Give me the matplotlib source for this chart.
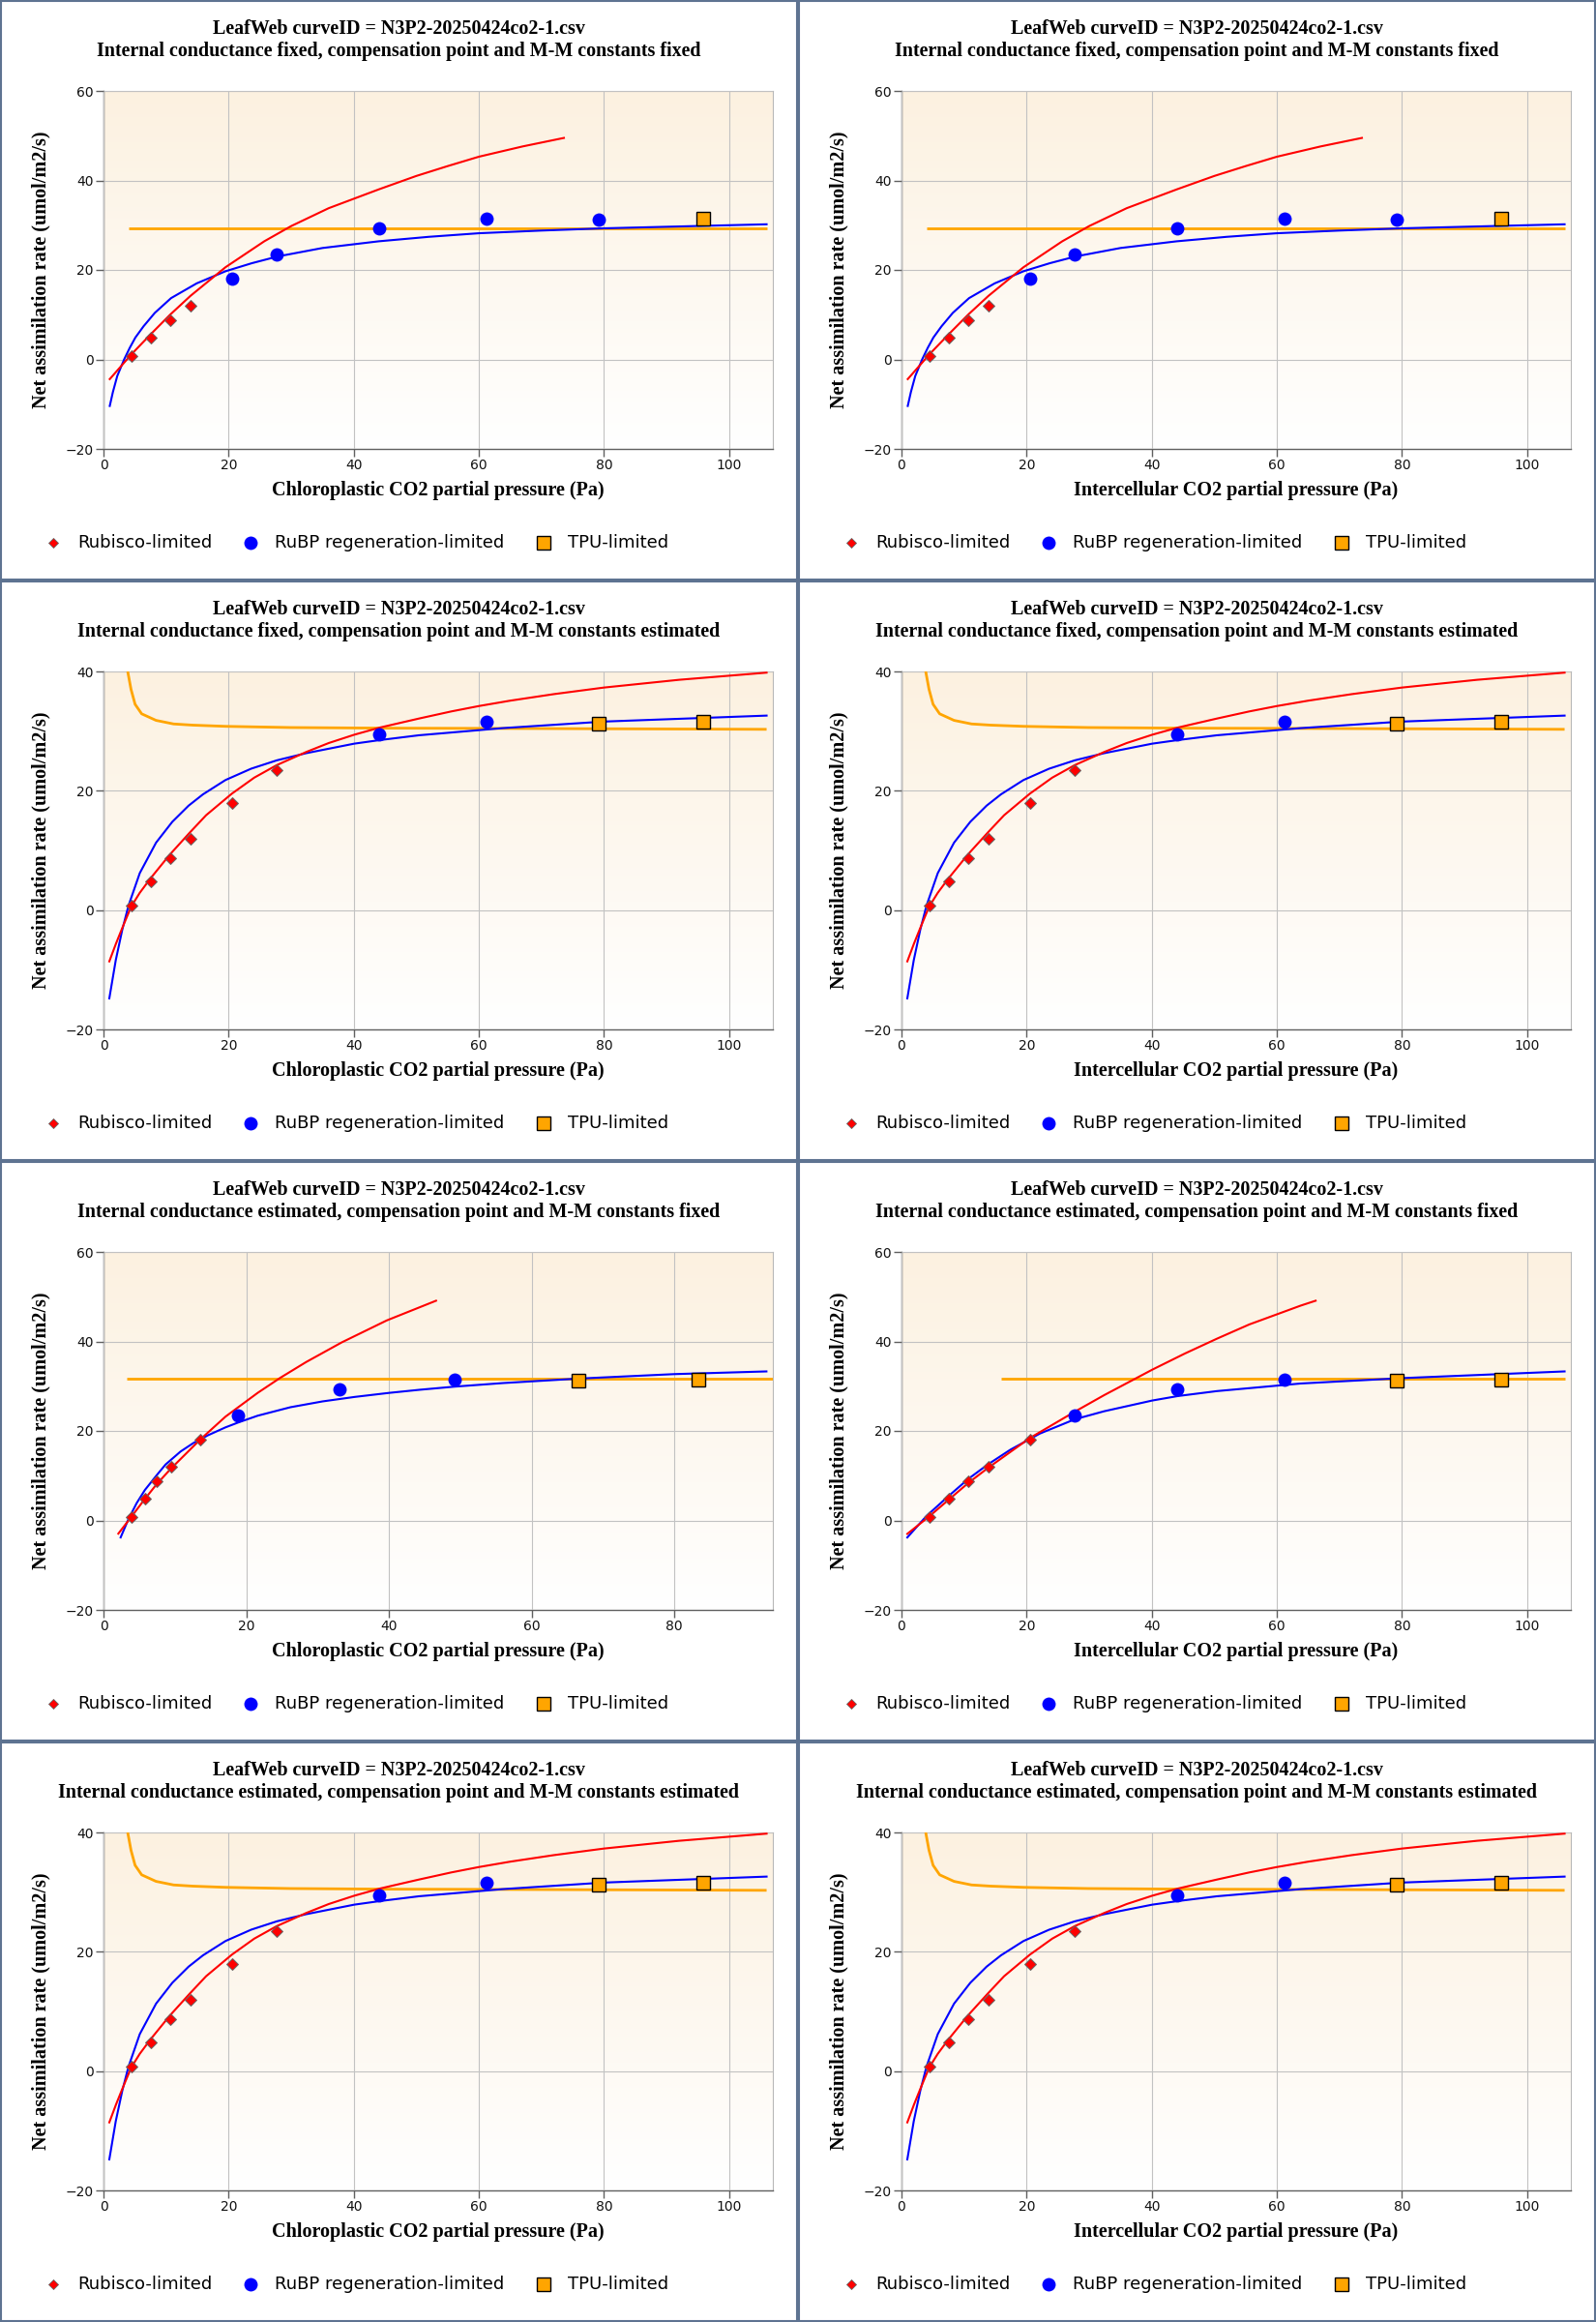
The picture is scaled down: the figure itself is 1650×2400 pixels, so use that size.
import numpy as np
import matplotlib
matplotlib.use("Agg")
import matplotlib.pyplot as plt
from matplotlib.patches import Rectangle
from matplotlib.lines import Line2D

# ---------------- data ----------------
curve_id = "LeafWeb curveID = N3P2-20250424co2-1.csv"

# observations
ci_pa = [4.47, 7.56, 10.65, 13.9, 20.6, 27.7, 44.0, 61.3, 79.1, 95.9]
cc_gm_est = [3.92, 5.77, 7.48, 9.48, 13.6, 18.8, 33.1, 49.25, 66.6, 83.4]
a_net = [0.8, 4.8, 8.7, 11.9, 18.0, 23.4, 29.4, 31.5, 31.3, 31.5]

# limitation assigned to each observation: R Rubisco, J RuBP regeneration, T TPU
lim_fix_fix = ['R', 'R', 'R', 'R', 'J', 'J', 'J', 'J', 'J', 'T']
lim_fix_est = ['R', 'R', 'R', 'R', 'R', 'R', 'J', 'J', 'T', 'T']
lim_est_fix = ['R', 'R', 'R', 'R', 'R', 'J', 'J', 'J', 'T', 'T']
lim_est_est = ['R', 'R', 'R', 'R', 'R', 'R', 'J', 'J', 'T', 'T']

# fitted curves, fit A: gm fixed, constants fixed
fitA_rub_x = [1.0, 4.5, 7.6, 10.65, 13.9, 19.5, 25.7, 30.0, 36.0, 44.0, 50.0, 55.0, 60.0, 67.0, 73.6]
fitA_rub_y = [-4.4, 1.2, 5.7, 10.0, 14.2, 20.6, 26.4, 29.8, 33.8, 38.0, 41.0, 43.2, 45.3, 47.6, 49.5]
fitA_rubp_x = [1.0, 1.5, 2.2, 3.3, 4.2, 5.1, 6.4, 8.2, 10.8, 14.9, 19.5, 23.7, 27.8, 35.0, 44.0, 52.0,
               60.0, 70.0, 80.0, 106.0]
fitA_rubp_y = [-10.4, -7.3, -3.7, 0.0, 2.6, 4.9, 7.4, 10.4, 13.7, 17.0, 19.7, 21.5, 23.0, 24.9, 26.4, 27.4,
               28.2, 28.8, 29.3, 30.2]
fitA_tpu_x = [4.0, 106.0]
fitA_tpu_y = [29.3, 29.3]

# fit B: constants estimated (gm fixed or estimated)
fitB_rub_x = [0.93, 2.0, 3.0, 4.43, 5.8, 7.5, 10.6, 13.8, 16.4, 20.5, 24.1, 27.7, 32.4, 36.0, 40.1, 44.2,
              50.4, 55.6, 60.0, 65.0, 72.0, 80.0, 92.0, 106.0]
fitB_rub_y = [-8.6, -5.6, -3.0, 0.6, 2.9, 5.3, 9.3, 13.0, 15.9, 19.5, 22.2, 24.3, 26.5, 28.0, 29.4, 30.6,
              32.1, 33.3, 34.2, 35.1, 36.2, 37.3, 38.6, 39.8]
fitB_rubp_x = [0.93, 1.96, 3.0, 4.0, 5.8, 8.4, 11.0, 13.6, 15.9, 19.5, 23.6, 27.7, 32.4, 40.1, 44.2,
               50.4, 63.8, 80.0, 106.0]
fitB_rubp_y = [-14.8, -8.4, -3.3, 0.76, 6.2, 11.3, 14.8, 17.5, 19.4, 21.8, 23.7, 25.1, 26.3, 27.9, 28.5,
               29.3, 30.5, 31.6, 32.6]
fitB_tpu_x = [3.87, 4.4, 5.05, 6.1, 8.4, 11.2, 14.3, 19.5, 29.8, 44.2, 63.8, 106.0]
fitB_tpu_y = [40.0, 37.0, 34.5, 32.9, 31.8, 31.2, 31.0, 30.8, 30.6, 30.5, 30.45, 30.3]

# fit C: gm estimated, constants fixed, chloroplastic axis
fitC_rub_x = [2.08, 3.9, 5.7, 7.4, 9.4, 13.5, 17.1, 21.6, 24.8, 28.4, 33.4, 39.7, 46.6]
fitC_rub_y = [-2.95, 0.8, 4.6, 8.0, 11.5, 18.0, 23.2, 28.5, 31.9, 35.4, 39.8, 44.7, 49.1]
fitC_rubp_x = [2.4, 3.5, 4.66, 5.8, 7.4, 8.7, 10.8, 12.6, 14.6, 17.1, 18.9, 21.6, 26.2, 30.7, 35.2,
               40.0, 44.3, 49.2, 56.0, 66.6, 80.0, 92.9]
fitC_rubp_y = [-3.8, 0.3, 3.9, 6.8, 10.0, 12.5, 15.4, 17.3, 19.0, 20.8, 21.9, 23.4, 25.3, 26.6, 27.6,
               28.5, 29.2, 29.9, 30.7, 31.7, 32.7, 33.3]
fitC_tpu_x = [3.3, 93.8]
fitC_tpu_y = [31.7, 31.7]

# fit D: gm estimated, constants fixed, intercellular axis
fitD_rub_x = [0.93, 4.43, 7.6, 10.7, 13.8, 20.5, 27.7, 32.4, 40.1, 45.3, 50.4, 55.6, 63.8, 66.2]
fitD_rub_y = [-3.0, 0.9, 4.7, 8.4, 11.7, 18.4, 24.3, 28.0, 33.7, 37.3, 40.6, 43.8, 48.0, 49.1]
fitD_rubp_x = [0.93, 4.0, 7.4, 10.7, 13.8, 17.4, 22.1, 27.7, 32.4, 40.1, 44.2, 50.4, 63.8, 80.0, 106.0]
fitD_rubp_y = [-3.8, 1.0, 5.3, 9.3, 12.5, 15.8, 19.4, 22.6, 24.4, 26.8, 27.8, 28.9, 30.6, 31.8, 33.3]
fitD_tpu_x = [15.9, 106.0]
fitD_tpu_y = [31.7, 31.7]

subtitles = [
    "Internal conductance fixed, compensation point and M-M constants fixed",
    "Internal conductance fixed, compensation point and M-M constants estimated",
    "Internal conductance estimated, compensation point and M-M constants fixed",
    "Internal conductance estimated, compensation point and M-M constants estimated",
]
xlabels = ["Chloroplastic CO2 partial pressure (Pa)", "Intercellular CO2 partial pressure (Pa)"]
ylabel = "Net assimilation rate (umol/m2/s)"
legend_labels = ["Rubisco-limited", "RuBP regeneration-limited", "TPU-limited"]

fitA = (fitA_rub_x, fitA_rub_y, fitA_rubp_x, fitA_rubp_y, fitA_tpu_x, fitA_tpu_y)
fitB = (fitB_rub_x, fitB_rub_y, fitB_rubp_x, fitB_rubp_y, fitB_tpu_x, fitB_tpu_y)
fitC = (fitC_rub_x, fitC_rub_y, fitC_rubp_x, fitC_rubp_y, fitC_tpu_x, fitC_tpu_y)
fitD = (fitD_rub_x, fitD_rub_y, fitD_rubp_x, fitD_rubp_y, fitD_tpu_x, fitD_tpu_y)

# (row, col, subtitle idx, xlabel idx, x values, limitation, fit, ymax, xmax, xticks)
panels = [
    (0, 0, 0, 0, ci_pa, lim_fix_fix, fitA, 60, 107.0, [0, 20, 40, 60, 80, 100]),
    (0, 1, 0, 1, ci_pa, lim_fix_fix, fitA, 60, 107.0, [0, 20, 40, 60, 80, 100]),
    (1, 0, 1, 0, ci_pa, lim_fix_est, fitB, 40, 107.0, [0, 20, 40, 60, 80, 100]),
    (1, 1, 1, 1, ci_pa, lim_fix_est, fitB, 40, 107.0, [0, 20, 40, 60, 80, 100]),
    (2, 0, 2, 0, cc_gm_est, lim_est_fix, fitC, 60, 93.8, [0, 20, 40, 60, 80]),
    (2, 1, 2, 1, ci_pa, lim_est_fix, fitD, 60, 107.0, [0, 20, 40, 60, 80, 100]),
    (3, 0, 3, 0, ci_pa, lim_est_est, fitB, 40, 107.0, [0, 20, 40, 60, 80, 100]),
    (3, 1, 3, 1, ci_pa, lim_est_est, fitB, 40, 107.0, [0, 20, 40, 60, 80, 100]),
]

# ---------------- styling ----------------
W, H = 1650, 2400
PW, PH = 825, 600
RED, BLUE, ORANGE = "#ff0000", "#0000ff", "#ffa500"
BORDER = "#5e7391"
SERIF = ["Liberation Serif", "DejaVu Serif"]
TICKF = ["DejaVu Sans"]
SANS = ["DejaVu Sans"]

fig = plt.figure(figsize=(W / 100, H / 100), dpi=100)
fig.patch.set_facecolor("white")

top_rgb = np.array([252, 241, 224]) / 255.0
bot_rgb = np.array([255, 255, 255]) / 255.0
t = np.linspace(0, 1, 256)[:, None]
grad = (top_rgb[None, :] * (1 - t) + bot_rgb[None, :] * t)[:, None, :]


def fx(px):
    return px / W


def fy(py):
    return 1 - py / H


for (r, c, si, xi, xs, lim, fit, ymax, xmax, xticks) in panels:
    ox, oy = c * PW, r * PH
    ax = fig.add_axes([fx(ox + 107), fy(oy + 464), 692 / W, 370 / H])
    ymin = -20
    ax.imshow(grad, extent=(0, xmax, ymin, ymax), aspect="auto", zorder=0, interpolation="bilinear")
    ax.set_xlim(0, xmax)
    ax.set_ylim(ymin, ymax)
    ax.set_xticks(xticks)
    ax.set_yticks(list(range(ymin, ymax + 1, 20)))
    ax.grid(True, color="#c2c2c2", lw=0.8, zorder=1)
    ax.set_axisbelow(False)
    for s in ["top", "right"]:
        ax.spines[s].set_color("#b8b8b8")
        ax.spines[s].set_linewidth(0.8)
    for s in ["left", "bottom"]:
        ax.spines[s].set_color("#606060")
        ax.spines[s].set_linewidth(1.0)
    ax.tick_params(axis="both", direction="out", length=5.5, width=1.0, color="#606060",
                   labelsize=10, labelcolor="#111111", pad=2)
    for lab in ax.get_xticklabels() + ax.get_yticklabels():
        lab.set_family(TICKF)

    rx, ry, jx, jy, tx, ty = fit
    ax.plot(tx, ty, color=ORANGE, lw=2.0, zorder=3, solid_capstyle="butt")
    ax.plot(jx, jy, color=BLUE, lw=1.5, zorder=4, solid_joinstyle="round")
    ax.plot(rx, ry, color=RED, lw=1.5, zorder=4, solid_joinstyle="round")

    rxs = [x for x, l in zip(xs, lim) if l == 'R']
    rys = [a for a, l in zip(a_net, lim) if l == 'R']
    jxs = [x for x, l in zip(xs, lim) if l == 'J']
    jys = [a for a, l in zip(a_net, lim) if l == 'J']
    txs = [x for x, l in zip(xs, lim) if l == 'T']
    tys = [a for a, l in zip(a_net, lim) if l == 'T']
    ax.plot(rxs, rys, ls="none", marker="D", ms=6, mfc=RED, mec="#666666", mew=0.7, zorder=6)
    ax.plot(jxs, jys, ls="none", marker="o", ms=10, mfc=BLUE, mec=BLUE, mew=0, zorder=6)
    ax.plot(txs, tys, ls="none", marker="s", ms=10, mfc=ORANGE, mec="black", mew=1.0, zorder=6)

    # titles & labels
    fig.text(fx(ox + 412), fy(oy + 30), curve_id, ha="center", va="center",
             family=SERIF, weight="bold", fontsize=14.4)
    fig.text(fx(ox + 412), fy(oy + 53), subtitles[si], ha="center", va="center",
             family=SERIF, weight="bold", fontsize=14.4)
    fig.text(fx(ox + 453), fy(oy + 507), xlabels[xi], ha="center", va="center",
             family=SERIF, weight="bold", fontsize=14.5)
    fig.text(fx(ox + 42), fy(oy + 279), ylabel, ha="center", va="center", rotation=90,
             family=SERIF, weight="bold", fontsize=14.5)

    # legend
    ly = fy(oy + 561)
    fig.add_artist(Line2D([fx(ox + 55)], [ly], transform=fig.transFigure, ls="none",
                          marker="D", ms=5.5, mfc=RED, mec="#666666", mew=0.6))
    fig.add_artist(Line2D([fx(ox + 259)], [ly], transform=fig.transFigure, ls="none",
                          marker="o", ms=10, mfc=BLUE, mec=BLUE, mew=0))
    fig.add_artist(Line2D([fx(ox + 562)], [ly], transform=fig.transFigure, ls="none",
                          marker="s", ms=10, mfc=ORANGE, mec="black", mew=1.0))
    for lx, txt in zip([80, 284, 587], legend_labels):
        fig.text(fx(ox + lx), ly, txt, ha="left", va="center", family=SANS, fontsize=13,
                 color="black")

    # panel border
    fig.add_artist(Rectangle((fx(ox + 1), fy(oy + PH - 1)), (PW - 2) / W, (PH - 2) / H,
                             transform=fig.transFigure, fill=False, ec=BORDER, lw=1.5))

fig.savefig("out.png", dpi=100)
